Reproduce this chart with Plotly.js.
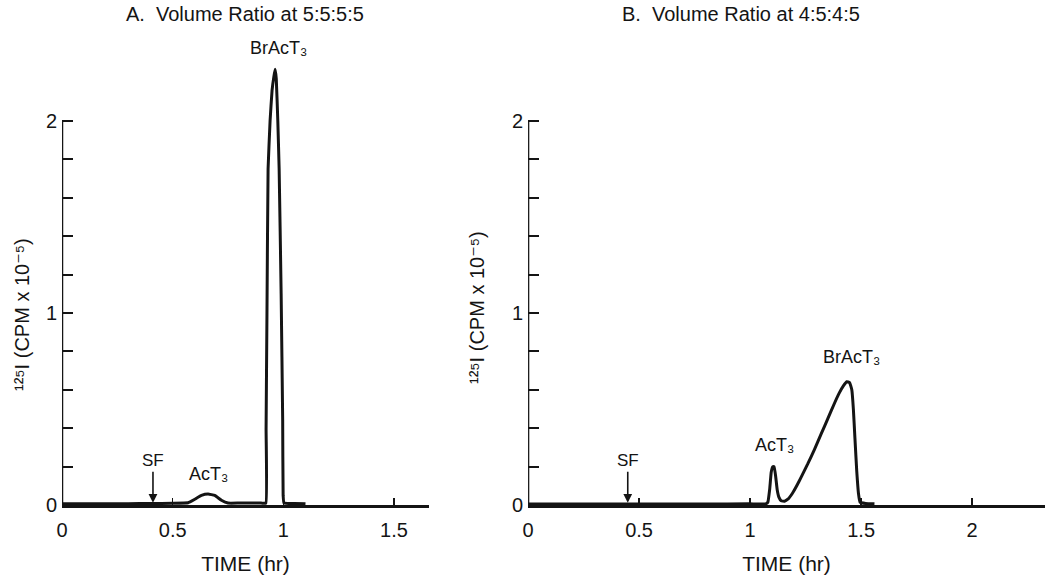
<!DOCTYPE html>
<html>
<head>
<meta charset="utf-8">
<script src="https://cdn.plot.ly/plotly-3.0.1.min.js"></script>
<style>html,body{margin:0;padding:0;background:#fff;}#chart{width:1050px;height:579px;}</style>
</head>
<body>
<div id="chart"></div>
<script>
// Panel A: Volume Ratio at 5:5:5:5
var timeA = [0, 0.1, 0.2, 0.3, 0.4, 0.5, 0.57, 0.6, 0.63, 0.66, 0.69, 0.72, 0.75, 0.8, 0.85, 0.9, 0.921, 0.922, 0.926, 0.931, 0.94, 0.949, 0.957, 0.963, 0.968, 0.975, 0.981, 0.99, 0.997, 0.999, 1.003, 1.05, 1.1];
var cpmA  = [0.006, 0.006, 0.006, 0.007, 0.008, 0.009, 0.012, 0.03, 0.05, 0.057, 0.05, 0.025, 0.01, 0.01, 0.01, 0.01, 0.01, 0.4, 1.0, 1.75, 2.0, 2.16, 2.23, 2.27, 2.22, 2.0, 1.75, 1.1, 0.44, 0.05, 0.01, 0.008, 0.006];
// Panel B: Volume Ratio at 4:5:4:5
var timeB = [0, 0.2, 0.4, 0.6, 0.8, 1.0, 1.07, 1.08, 1.088, 1.095, 1.102, 1.108, 1.115, 1.122, 1.13, 1.14, 1.155, 1.17, 1.19, 1.21, 1.23, 1.26, 1.29, 1.32, 1.35, 1.38, 1.40, 1.42, 1.435, 1.448, 1.458, 1.465, 1.472, 1.48, 1.488, 1.495, 1.52, 1.56];
var cpmB  = [0.005, 0.005, 0.005, 0.005, 0.005, 0.006, 0.006, 0.015, 0.08, 0.17, 0.2, 0.2, 0.15, 0.08, 0.04, 0.022, 0.02, 0.03, 0.06, 0.1, 0.145, 0.215, 0.29, 0.37, 0.45, 0.53, 0.58, 0.62, 0.642, 0.638, 0.6, 0.5, 0.35, 0.18, 0.06, 0.015, 0.008, 0.006];

var xTickValsA = [0, 0.5, 1, 1.5];
var xTickTextA = ["0", "0.5", "1", "1.5"];
var xTickValsB = [0, 0.5, 1, 1.5, 2];
var xTickTextB = ["0", "0.5", "1", "1.5", "2"];
var yTickVals = [0, 1, 2];
var yTickText = ["0", "1", "2"];
var yMinorVals = [0.2, 0.4, 0.6, 0.8, 1.2, 1.4, 1.6, 1.8];

var sfTimeA = 0.411, sfTimeB = 0.449;
var ink = "#141414";
var fam = "Liberation Sans, Arial, Helvetica, DejaVu Sans, sans-serif";
var yTitle = "\u00B9\u00B2\u2075I (CPM x 10\u207B\u2075)";
var acLabel = "AcT\u2083";
var brLabel = "BrAcT\u2083";

var traces = [
  {x: timeA, y: cpmA, xaxis: "x", yaxis: "y", mode: "lines", line: {color: ink, width: 3, shape: "spline", smoothing: 0.3}, hoverinfo: "x+y"},
  {x: timeB, y: cpmB, xaxis: "x2", yaxis: "y2", mode: "lines", line: {color: ink, width: 3, shape: "spline", smoothing: 0.3}, hoverinfo: "x+y"}
];

function xAxis(dom, range, vals, text) {
  return {
    domain: dom, range: range, showgrid: false, zeroline: false,
    showline: true, linecolor: ink, linewidth: 2.5,
    ticks: "inside", ticklen: 7, tickwidth: 1.5, tickcolor: ink,
    tickvals: vals, ticktext: text, ticklabelstandoff: 5,
    tickfont: {family: fam, size: 20, color: ink},
    title: {text: "TIME (hr)", font: {family: fam, size: 21, color: ink}, standoff: 17},
    fixedrange: true
  };
}
function yAxis(anchor) {
  return {
    domain: [0.1278, 0.9402], range: [0, 2.45], anchor: anchor,
    showgrid: false, zeroline: false, showline: false,
    ticks: "inside", ticklen: 11, tickwidth: 2, tickcolor: ink,
    tickvals: yTickVals, ticktext: yTickText, ticklabelstandoff: 4,
    tickfont: {family: fam, size: 20, color: ink},
    minor: {tickmode: "array", tickvals: yMinorVals, ticks: "inside", ticklen: 11, tickwidth: 2, tickcolor: ink, showgrid: false},
    fixedrange: true
  };
}

var lblFont = {family: fam, size: 18, color: ink};
function ann(o) { o.xanchor = "center"; o.yanchor = "middle"; return o; }
var layout = {
  width: 1050, height: 579,
  margin: {l: 0, r: 0, t: 0, b: 0},
  paper_bgcolor: "#fff", plot_bgcolor: "rgba(0,0,0,0)",
  showlegend: false,
  xaxis: xAxis([0.05905, 0.40857], [0, 1.658], xTickValsA, xTickTextA),
  yaxis: yAxis("x"),
  xaxis2: xAxis([0.5029, 0.99524], [0, 2.328], xTickValsB, xTickTextB),
  yaxis2: yAxis("x2"),
  shapes: [
    {type: "line", xref: "x", yref: "y", x0: 0, x1: 0, y0: yTickVals[0], y1: yTickVals[yTickVals.length - 1], line: {color: ink, width: 2.5}},
    {type: "line", xref: "x2", yref: "y2", x0: 0, x1: 0, y0: yTickVals[0], y1: yTickVals[yTickVals.length - 1], line: {color: ink, width: 2.5}}
  ],
  annotations: [
    ann({xref: "paper", yref: "paper", x: 245/1050, y: (579-14)/579, text: "A.  Volume Ratio at 5:5:5:5", showarrow: false, font: {family: fam, size: 20, color: ink}}),
    ann({xref: "paper", yref: "paper", x: 741/1050, y: (579-14)/579, text: "B.  Volume Ratio at 4:5:4:5", showarrow: false, font: {family: fam, size: 20, color: ink}}),
    ann({xref: "paper", yref: "paper", x: 22/1050, y: (579-315)/579, text: yTitle, textangle: -90, showarrow: false, font: {family: fam, size: 20, color: ink}}),
    ann({xref: "paper", yref: "paper", x: 477/1050, y: (579-308)/579, text: yTitle, textangle: -90, showarrow: false, font: {family: fam, size: 20, color: ink}}),
    ann({xref: "x", yref: "y", x: sfTimeA, y: 0.012, text: "SF", showarrow: true, ax: 0, ay: -42, arrowhead: 2, arrowsize: 1.1, arrowwidth: 1.6, arrowcolor: ink, standoff: 0, font: {family: fam, size: 17, color: ink}}),
    ann({xref: "x2", yref: "y2", x: sfTimeB, y: 0.012, text: "SF", showarrow: true, ax: 0, ay: -42, arrowhead: 2, arrowsize: 1.1, arrowwidth: 1.6, arrowcolor: ink, standoff: 0, font: {family: fam, size: 17, color: ink}}),
    ann({xref: "x", yref: "y", x: 0.664, y: 0.16, text: acLabel, showarrow: false, font: lblFont}),
    ann({xref: "x", yref: "y", x: 0.98, y: 2.38, text: brLabel, showarrow: false, font: lblFont}),
    ann({xref: "x2", yref: "y2", x: 1.11, y: 0.31, text: acLabel, showarrow: false, font: lblFont}),
    ann({xref: "x2", yref: "y2", x: 1.456, y: 0.77, text: brLabel, showarrow: false, font: lblFont})
  ]
};

Plotly.newPlot("chart", traces, layout, {displayModeBar: false, staticPlot: true});
</script>
</body>
</html>
